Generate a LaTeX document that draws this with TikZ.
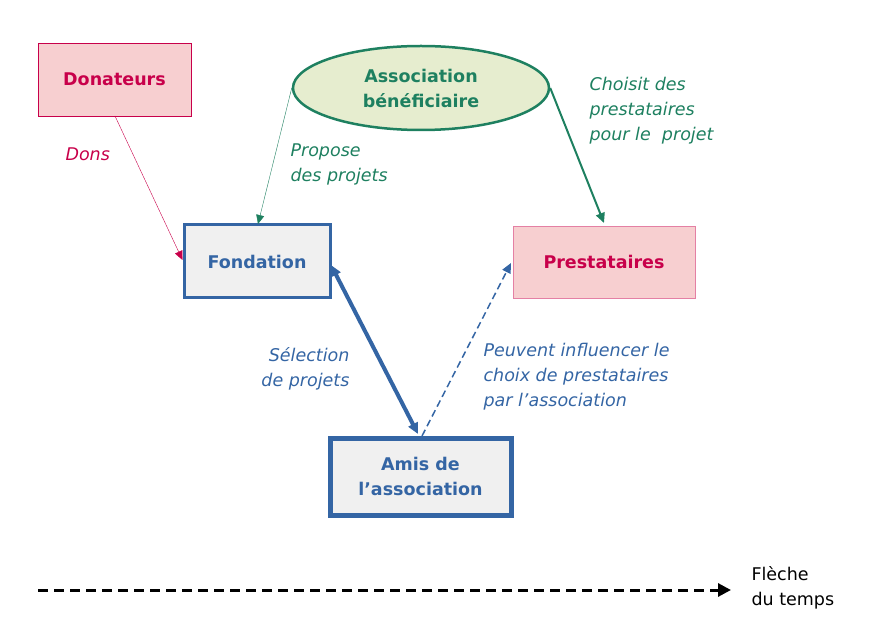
\documentclass[tikz,border=0pt]{standalone}
\usepackage{fontspec}
\setmainfont{DejaVu Sans}
\usetikzlibrary{arrows.meta,shapes.geometric}
\definecolor{crim}{HTML}{C8004A}
\definecolor{pinkf}{HTML}{F7CFD0}
\definecolor{grn}{HTML}{1E8060}
\definecolor{grnf}{HTML}{E6EDCF}
\definecolor{blu}{HTML}{3465A4}
\definecolor{gryf}{HTML}{F0F0F0}
\tikzset{
 box/.style={draw,font=\bfseries\fontsize{17.5}{25}\selectfont,align=center,inner sep=0},
 lab/.style={font=\itshape\fontsize{17.5}{25}\selectfont,align=left,anchor=north west},
}
\begin{document}
\begin{tikzpicture}[x=1pt,y=-1pt]
\useasboundingbox (0,0) rectangle (884,644);
\node[box,fill=pinkf,draw=crim,text=crim,minimum width=153,minimum height=73] (don) at (114.5,79.5) {Donateurs};
\node[box,ellipse,fill=grnf,draw=grn,line width=2.5,text=grn,minimum width=256,minimum height=84] (asso) at (421,88) {Association\\bénéficiaire};
\node[box,fill=gryf,draw=blu,line width=3,text=blu,minimum width=146,minimum height=73] (fond) at (257,261.5) {Fondation};
\node[box,fill=pinkf,draw=crim!50,text=crim,minimum width=182,minimum height=72] (prest) at (604,262) {Prestataires};
\node[box,fill=gryf,draw=blu,line width=5,text=blu,minimum width=181,minimum height=77] (amis) at (420.5,476.5) {Amis de\\l’association};
\draw[crim,-{Triangle[length=9,width=8]}] (115,116) -- (fond.west|-0,260);
\draw[grn,-{Triangle[length=9,width=8]}] (asso.west) -- (258,224);
\draw[grn,line width=2,-{Triangle[length=10,width=9]}] (asso.east) -- (604,223);
\draw[blu,line width=4,{Triangle[length=11,width=10]}-{Triangle[length=11,width=10]}] (331,265) -- (418,434);
\draw[blu,line width=1.5,dash pattern=on 7 off 4,-{Triangle[length=10,width=9]}] (422,436) -- (511,263);
\node[lab,text=crim] (l1) at (62,144) {Dons};
\node[lab,text=grn] (l2) at (287,140) {Propose\\des projets};
\node[lab,text=grn] (l3) at (586,74) {Choisit des\\prestataires\\pour le\ \ projet};
\node[lab,text=blu,align=right,anchor=north east] (l4) at (353,344) {Sélection\\de projets};
\node[lab,text=blu] (l5) at (480,340) {Peuvent influencer le\\choix de prestataires\\par l’association};
\coordinate (t0) at (38,590);
\node[font=\fontsize{17.5}{25}\selectfont,align=left,anchor=west] (tl) at (748,588) {Flèche\\du temps};
\draw[line width=3,dash pattern=on 10 off 6,-{Triangle[length=13,width=13]}] (t0) -- (731,590);
\end{tikzpicture}
\end{document}
